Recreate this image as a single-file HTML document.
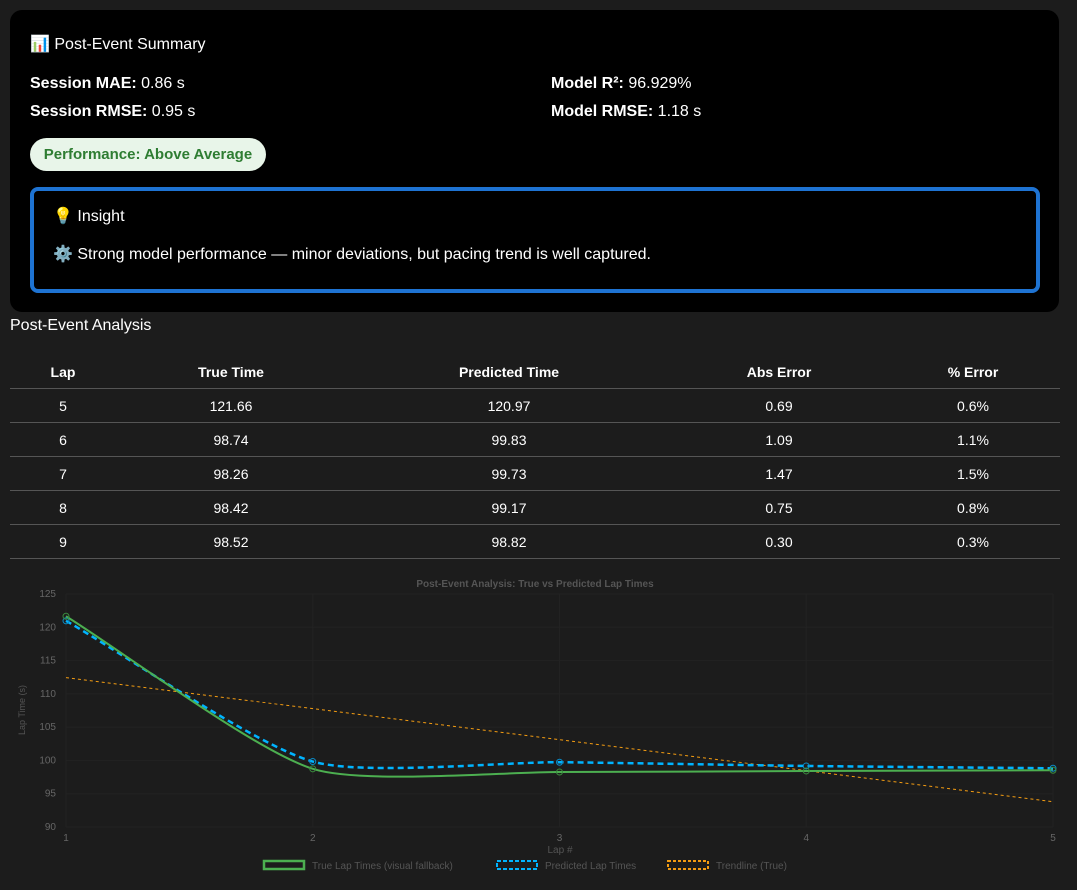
<!DOCTYPE html>
<html><head><meta charset="utf-8">
<style>
body{margin:0;background:#1c1c1c;width:1077px;height:890px;overflow:hidden;font-family:"Liberation Sans",sans-serif;color:#fff;position:relative}
.card{position:absolute;left:10px;top:10px;width:1049px;height:302px;background:#000;border-radius:12px}
.t{position:absolute;font-size:16px;white-space:nowrap}
b{font-weight:bold}
.badge{position:absolute;left:30px;top:138px;width:236px;height:33px;border-radius:17px;background:#e8f5e9;color:#2e7d32;font-weight:bold;font-size:15px;line-height:33px;text-align:center}
.ins{position:absolute;left:30px;top:187px;width:1002px;height:98px;border:4px solid #1e73d2;border-radius:8px}
table{position:absolute;left:10px;top:355px;width:1050px;border-collapse:collapse;font-size:14px}
th{height:33px;padding:0;font-weight:bold;border-bottom:1px solid #555}
td{height:33px;padding:0;text-align:center;border-bottom:1px solid #555}
</style></head><body>
<div class="card"></div>
<div class="t" style="left:30px;top:34px">📊 Post-Event Summary</div>
<div class="t" style="left:30px;top:75px"><b>Session MAE:</b> 0.86 s</div>
<div class="t" style="left:30px;top:103px"><b>Session RMSE:</b> 0.95 s</div>
<div class="t" style="left:551px;top:75px"><b>Model R²:</b> 96.929%</div>
<div class="t" style="left:551px;top:103px"><b>Model RMSE:</b> 1.18 s</div>
<div class="badge">Performance: Above Average</div>
<div class="ins"></div>
<div class="t" style="left:53px;top:206px">💡 Insight</div>
<div class="t" style="left:53px;top:244px">⚙️ Strong model performance — minor deviations, but pacing trend is well captured.</div>
<div class="t" style="left:10px;top:317px">Post-Event Analysis</div>
<table>
<tr><th style="width:106px">Lap</th><th style="width:230px">True Time</th><th style="width:326px">Predicted Time</th><th style="width:214px">Abs Error</th><th>% Error</th></tr>
<tr><td>5</td><td>121.66</td><td>120.97</td><td>0.69</td><td>0.6%</td></tr>
<tr><td>6</td><td>98.74</td><td>99.83</td><td>1.09</td><td>1.1%</td></tr>
<tr><td>7</td><td>98.26</td><td>99.73</td><td>1.47</td><td>1.5%</td></tr>
<tr><td>8</td><td>98.42</td><td>99.17</td><td>0.75</td><td>0.8%</td></tr>
<tr><td>9</td><td>98.52</td><td>98.82</td><td>0.30</td><td>0.3%</td></tr>
</table>
<svg id="ch" width="1077" height="320" style="position:absolute;left:0;top:570px"></svg>
<script>
const laps=[1,2,3,4,5];
const trueTimes=[121.66,98.74,98.26,98.42,98.52];
const predTimes=[120.97,99.83,99.73,99.17,98.82];
const yTicks=[90,95,100,105,110,115,120,125];
const svg=document.getElementById('ch');
const NS='http://www.w3.org/2000/svg';
const X0=66,X1=1053,Y0=257,Y1=24;
const xs=v=>X0+(v-1)*(X1-X0)/4;
const ys=v=>Y0-(v-90)*(Y0-Y1)/35;
function el(t,a,txt){const e=document.createElementNS(NS,t);for(const k in a)e.setAttribute(k,a[k]);if(txt!==undefined)e.textContent=txt;svg.appendChild(e);return e;}
yTicks.forEach(v=>{const g=el('line',{x1:X0,x2:X1,y1:ys(v),y2:ys(v),stroke:'#222'});

const t=el('text',{x:X0-10,y:ys(v)+3,'text-anchor':'end','font-size':10,fill:'#666'},v);
});
laps.forEach(v=>{const g=el('line',{x1:xs(v),x2:xs(v),y1:Y1,y2:Y0,stroke:'#222'});

const t=el('text',{x:xs(v),y:Y0+14,'text-anchor':'middle','font-size':10,fill:'#666'},v);
});
let e=el('text',{x:535,y:17,'text-anchor':'middle','font-size':10,'font-weight':'bold',fill:'#555'},'Post-Event Analysis: True vs Predicted Lap Times');

e=el('text',{x:560,y:283,'text-anchor':'middle','font-size':10,fill:'#555'},'Lap #');

e=el('text',{x:25,y:140,'text-anchor':'middle','font-size':9,fill:'#555',transform:'rotate(-90 25 140)'},'Lap Time (s)');

function spline(px,py,tn){const n=px.length;let p='M'+px[0]+','+py[0];const cp=[];
for(let i=0;i<n;i++){const pi=Math.max(0,i-1),ni=Math.min(n-1,i+1);
const d01=Math.hypot(px[i]-px[pi],py[i]-py[pi]),d12=Math.hypot(px[ni]-px[i],py[ni]-py[i]);
let s01=d01/(d01+d12),s12=d12/(d01+d12);if(isNaN(s01))s01=0;if(isNaN(s12))s12=0;
const fa=tn*s01,fb=tn*s12;
cp.push({px:px[i]-fa*(px[ni]-px[pi]),py:py[i]-fa*(py[ni]-py[pi]),nx:px[i]+fb*(px[ni]-px[pi]),ny:py[i]+fb*(py[ni]-py[pi])});}
for(let i=0;i<n-1;i++)p+=' C'+cp[i].nx+','+cp[i].ny+' '+cp[i+1].px+','+cp[i+1].py+' '+px[i+1]+','+py[i+1];return p;}
const mx=laps.reduce((a,b)=>a+b)/laps.length,my=trueTimes.reduce((a,b)=>a+b)/laps.length;
let sxy=0,sxx=0;laps.forEach((x,i)=>{sxy+=(x-mx)*(trueTimes[i]-my);sxx+=(x-mx)*(x-mx);});const sl=sxy/sxx;
e=el('line',{x1:xs(1),y1:ys(my+sl*(1-mx)),x2:xs(5),y2:ys(my+sl*(5-mx)),stroke:'#f39c12','stroke-width':1,'stroke-dasharray':'3 3'});

const PX=laps.map(xs);
e=el('path',{d:spline(PX,predTimes.map(ys),0.22),fill:'none',stroke:'#00b4ff','stroke-width':2.5,'stroke-dasharray':'6 4'});

e=el('path',{d:spline(PX,trueTimes.map(ys),0.22),fill:'none',stroke:'#4caf50','stroke-width':2});

laps.forEach((l,i)=>{let c=el('circle',{cx:xs(l),cy:ys(predTimes[i]),r:3,fill:'none',stroke:'#0a8cc8','stroke-width':1});

c=el('circle',{cx:xs(l),cy:ys(trueTimes[i]),r:3,fill:'none',stroke:'#3a8a3e','stroke-width':1});
});
const leg=[['True Lap Times (visual fallback)','#4caf50',null,264],['Predicted Lap Times','#00b4ff','4 2',497],['Trendline (True)','#f39c12','3 2',668]];
leg.forEach(([t,c,da,x])=>{const r=el('rect',{x:x,y:291,width:40,height:8,fill:'none',stroke:c,'stroke-width':da?2:2.5});if(da)r.setAttribute('stroke-dasharray',da);

const tx=el('text',{x:x+48,y:299,'font-size':10,fill:'#555'},t);
});
</script>
</body></html>
